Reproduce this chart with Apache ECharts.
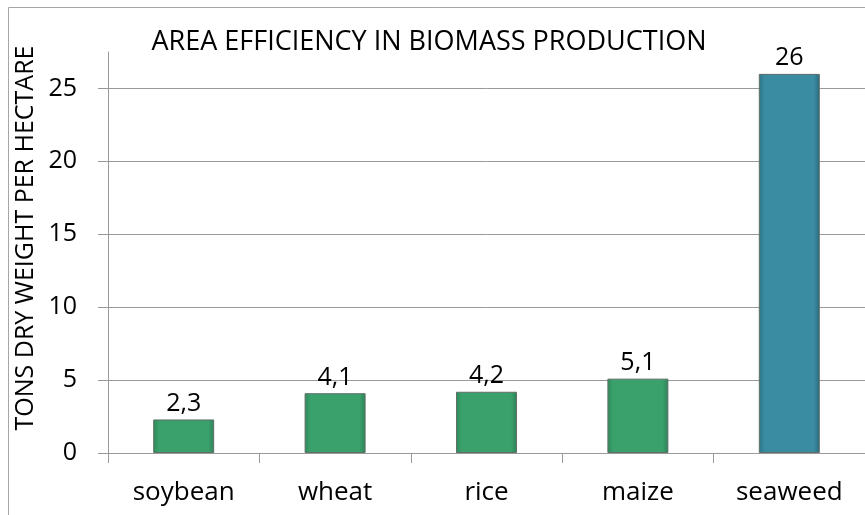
<!DOCTYPE html>
<html>
<head>
<meta charset="utf-8">
<script src="https://cdn.jsdelivr.net/npm/echarts@6/dist/echarts.min.js"></script>
<style>
  html, body { margin: 0; padding: 0; background: #fff; }
  #chart { width: 865px; height: 515px; }
</style>
</head>
<body>
<div id="chart"></div>
<script>
// data
var crops = ['soybean', 'wheat', 'rice', 'maize', 'seaweed'];
var tonsPerHa = [2.3, 4.1, 4.2, 5.1, 26];
var barColors = ['green', 'green', 'green', 'green', 'teal'];
var yTicks = [0, 5, 10, 15, 20, 25];

var FONT = 'Open Sans';

function barFill(kind) {
  // fake the bevel a bit: darker edges, lighter middle
  if (kind == 'teal') {
    return new echarts.graphic.LinearGradient(0, 0, 1, 0, [
      { offset: 0, color: '#2c7488' },
      { offset: 0.1, color: '#3a8ca3' },
      { offset: 0.9, color: '#3a8ca3' },
      { offset: 1, color: '#2b6a7c' }
    ]);
  }
  return new echarts.graphic.LinearGradient(0, 0, 1, 0, [
    { offset: 0, color: '#2f8a5a' },
    { offset: 0.1, color: '#3aa16c' },
    { offset: 0.9, color: '#3aa16c' },
    { offset: 1, color: '#2e8257' }
  ]);
}

var seriesData = tonsPerHa.map(function (v, i) {
  return {
    value: v,
    itemStyle: { color: barFill(barColors[i]) }
  };
});

var chart = echarts.init(document.getElementById('chart'));

chart.setOption({
  animation: false,
  backgroundColor: '#fff',
  title: {
    text: 'AREA EFFICIENCY IN BIOMASS PRODUCTION',
    left: 424,
    textAlign: 'center',
    top: 24,
    textStyle: { fontFamily: FONT, fontSize: 27, fontWeight: 'normal', color: '#000' }
  },
  graphic: [
    {
      type: 'rect',
      shape: { x: 8.5, y: 7.5, width: 900, height: 600 },
      style: { fill: 'none', stroke: '#a6a6a6', lineWidth: 1 },
      silent: true
    },
    {
      type: 'text',
      x: 26,
      y: 238,
      rotation: Math.PI / 2,
      style: {
        text: 'TONS DRY WEIGHT PER HECTARE',
        fontFamily: FONT,
        fontSize: 25,
        fill: '#000',
        align: 'center',
        verticalAlign: 'middle'
      }
    }
  ],
  grid: { left: 108, right: -3, top: 52, bottom: 62 },
  xAxis: {
    type: 'category',
    data: crops,
    axisLine: { lineStyle: { color: '#999', width: 1 } },
    axisTick: { show: true, length: 10, lineStyle: { color: '#999' } },
    axisLabel: { fontFamily: FONT, fontSize: 26, color: '#000', margin: 27 }
  },
  yAxis: {
    type: 'value',
    min: 0,
    max: 27.5,
    interval: 5,
    axisLine: { show: true, lineStyle: { color: '#999' } },
    axisTick: { show: true, length: 10, lineStyle: { color: '#999' } },
    splitLine: {
      show: true,
      lineStyle: { color: ['#999', '#999', '#999', '#999', '#999', '#999', 'rgba(0,0,0,0)'] }
    },
    axisLabel: {
      fontFamily: FONT, fontSize: 25, color: '#000', margin: 31,
      showMaxLabel: false,
      formatter: function (v) { return yTicks.indexOf(v) >= 0 ? String(v) : ''; }
    }
  },
  series: [{
    type: 'bar',
    data: seriesData,
    barWidth: 61,
    itemStyle: { borderColor: '#5f6f67', borderWidth: 1 },
    label: {
      show: true,
      position: 'top',
      distance: 3,
      fontFamily: FONT,
      fontSize: 25,
      color: '#000',
      formatter: function (p) { return String(p.value).replace('.', ','); }
    }
  }]
});
</script>
</body>
</html>
